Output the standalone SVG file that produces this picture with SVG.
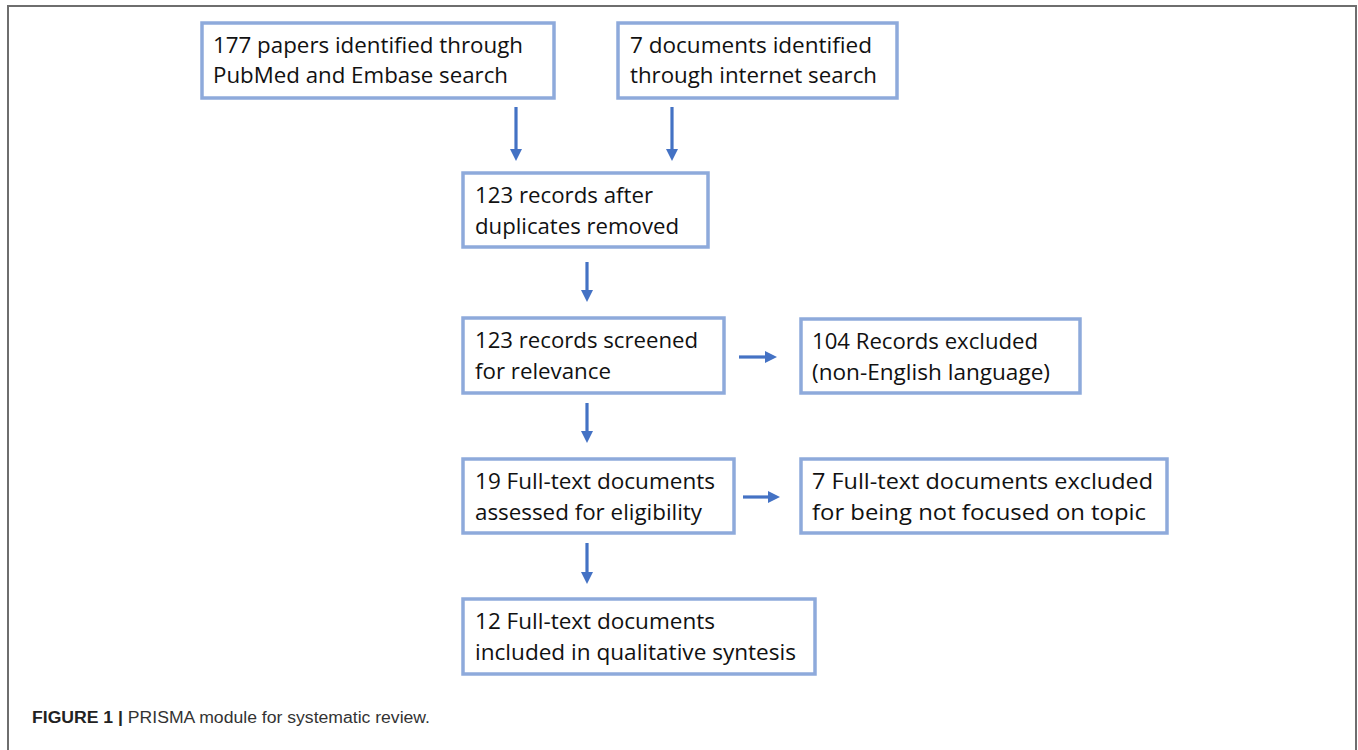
<svg xmlns="http://www.w3.org/2000/svg" width="1358" height="750" viewBox="0 0 1358 750">
<style>
.box{fill:#ffffff;stroke:#8eaadb;stroke-width:3.5}
.t{font-family:"Open Sans","Liberation Sans",sans-serif;font-size:21.5px;fill:#111111}
.c{stroke:#4472c4;stroke-width:3.2;fill:none;marker-end:url(#ah)}
.cap{font-family:"Liberation Sans",Arial,sans-serif;font-size:16px;fill:#333333}
</style>
<defs>
<marker id="ah" markerUnits="userSpaceOnUse" markerWidth="12" markerHeight="12" refX="0" refY="6" orient="auto">
<path d="M0,0 L12,6 L0,12 z" fill="#4472c4"/>
</marker>
</defs>
<rect width="1358" height="750" fill="#ffffff"/>
<g id="frame">
<path d="M8,750 V6 H1356 V750" fill="none" stroke="#6e6e6e" stroke-width="2"/>
</g>
<g id="n1">
<rect class="box" x="202" y="23" width="352" height="75"/>
<text class="t" x="213" y="53" textLength="310" lengthAdjust="spacingAndGlyphs">177 papers identified through</text>
<text class="t" x="213" y="83" textLength="295" lengthAdjust="spacingAndGlyphs">PubMed and Embase search</text>
</g>
<g id="n2">
<rect class="box" x="618" y="23" width="279" height="75"/>
<text class="t" x="630" y="53" textLength="242" lengthAdjust="spacingAndGlyphs">7 documents identified</text>
<text class="t" x="630" y="83" textLength="247" lengthAdjust="spacingAndGlyphs">through internet search</text>
</g>
<g id="n3">
<rect class="box" x="463" y="173" width="245" height="74"/>
<text class="t" x="475" y="203" textLength="178" lengthAdjust="spacingAndGlyphs">123 records after</text>
<text class="t" x="475" y="234" textLength="204" lengthAdjust="spacingAndGlyphs">duplicates removed</text>
</g>
<g id="n4">
<rect class="box" x="463" y="318" width="261" height="75"/>
<text class="t" x="475" y="348" textLength="223" lengthAdjust="spacingAndGlyphs">123 records screened</text>
<text class="t" x="475" y="379" textLength="136" lengthAdjust="spacingAndGlyphs">for relevance</text>
</g>
<g id="n5">
<rect class="box" x="801" y="319" width="279" height="74"/>
<text class="t" x="812" y="349" textLength="226" lengthAdjust="spacingAndGlyphs">104 Records excluded</text>
<text class="t" x="812" y="380" textLength="238" lengthAdjust="spacingAndGlyphs">(non-English language)</text>
</g>
<g id="n6">
<rect class="box" x="463" y="459" width="271" height="74"/>
<text class="t" x="475" y="489" textLength="240" lengthAdjust="spacingAndGlyphs">19 Full-text documents</text>
<text class="t" x="475" y="520" textLength="227" lengthAdjust="spacingAndGlyphs">assessed for eligibility</text>
</g>
<g id="n7">
<rect class="box" x="801" y="459" width="366" height="74"/>
<text class="t" x="812" y="489" textLength="341" lengthAdjust="spacingAndGlyphs">7 Full-text documents excluded</text>
<text class="t" x="812" y="520" textLength="334" lengthAdjust="spacingAndGlyphs">for being not focused on topic</text>
</g>
<g id="n8">
<rect class="box" x="463" y="599" width="352" height="75"/>
<text class="t" x="475" y="629" textLength="240" lengthAdjust="spacingAndGlyphs">12 Full-text documents</text>
<text class="t" x="475" y="660" textLength="321" lengthAdjust="spacingAndGlyphs">included in qualitative syntesis</text>
</g>
<g id="connectors">
<line class="c" x1="516" y1="107" x2="516" y2="149"/>
<line class="c" x1="672" y1="107" x2="672" y2="149"/>
<line class="c" x1="587" y1="262" x2="587" y2="290"/>
<line class="c" x1="587" y1="403" x2="587" y2="431"/>
<line class="c" x1="587" y1="543" x2="587" y2="572"/>
<line class="c" x1="739" y1="357" x2="765" y2="357"/>
<line class="c" x1="743" y1="497" x2="768" y2="497"/>
</g>
<g id="caption">
<text class="cap" x="32" y="723" textLength="398" lengthAdjust="spacingAndGlyphs"><tspan font-weight="bold" fill="#222222">FIGURE 1 |</tspan> PRISMA module for systematic review.</text>
</g>
</svg>
